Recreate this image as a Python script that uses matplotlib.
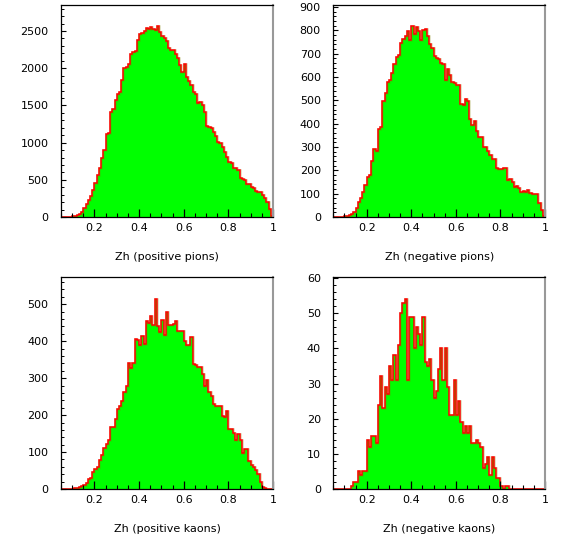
import numpy as np
import matplotlib
matplotlib.use("Agg")
import matplotlib.pyplot as plt
from matplotlib.ticker import MultipleLocator, FixedLocator, FixedFormatter

# bins of 0.01 in Zh, from 0.05 to 1
zh_edges = np.linspace(0.05, 1.0, 96)

pos_pions = [0, 0, 0, 0, 2, 8, 15, 22, 36, 72,
	116, 170, 228, 287, 363, 452, 564, 654, 788, 896,
	1111, 1133, 1407, 1452, 1572, 1649, 1676, 1841, 1998, 2020,
	2052, 2186, 2222, 2231, 2379, 2455, 2477, 2500, 2536, 2527,
	2558, 2527, 2509, 2563, 2482, 2437, 2401, 2365, 2276, 2244,
	2250, 2186, 2132, 2043, 1953, 2052, 1886, 1828, 1774, 1684,
	1649, 1528, 1540, 1505, 1407, 1228, 1210, 1192, 1147, 1093,
	1012, 990, 945, 878, 811, 744, 725, 663, 655, 632,
	520, 512, 493, 439, 450, 400, 385, 349, 340, 335,
	296, 260, 206, 108, 18]

neg_pions = [0, 0, 0, 0, 1, 3, 6, 10, 15, 22,
	37, 66, 83, 106, 138, 173, 180, 241, 291, 281,
	378, 385, 499, 532, 579, 585, 618, 656, 685, 693,
	747, 761, 775, 797, 757, 818, 785, 814, 797, 757,
	800, 804, 775, 742, 725, 690, 682, 676, 660, 655,
	585, 636, 610, 578, 575, 565, 565, 484, 479, 507,
	496, 420, 396, 410, 367, 341, 341, 302, 298, 281,
	267, 249, 249, 212, 206, 204, 210, 212, 159, 162,
	149, 130, 133, 126, 109, 111, 106, 116, 102, 100,
	100, 97, 60, 28, 6]

pos_kaons = [0, 0, 0, 0, 0, 1, 3, 4, 6, 8,
	12, 16, 28, 31, 45, 55, 60, 79, 91, 110,
	123, 133, 168, 168, 190, 217, 226, 238, 262, 280,
	341, 328, 341, 407, 402, 391, 413, 393, 454, 449,
	467, 443, 515, 440, 425, 458, 416, 479, 443, 445,
	447, 455, 429, 428, 428, 400, 389, 389, 411, 337,
	335, 330, 330, 312, 278, 294, 262, 251, 231, 226,
	226, 226, 197, 195, 211, 163, 163, 152, 132, 148,
	132, 97, 109, 109, 75, 64, 60, 52, 41, 19,
	5, 2, 0, 0, 0]

neg_kaons = [0, 0, 0, 0, 0, 0, 0, 0, 1, 2,
	2, 5, 4, 5, 5, 14, 12, 15, 15, 13,
	24, 32, 23, 29, 27, 35, 31, 38, 31, 41,
	50, 53, 54, 31, 49, 49, 40, 46, 44, 41,
	49, 36, 35, 37, 31, 26, 28, 34, 40, 31,
	40, 29, 21, 21, 31, 21, 25, 19, 16, 18,
	16, 18, 13, 13, 14, 13, 12, 6, 7, 9,
	4, 9, 6, 3, 3, 1, 0, 1, 1, 0,
	0, 0, 0, 0, 0, 0, 0, 0, 0, 0,
	0, 0, 0, 0, 0]

x_titles = ["Zh (positive pions)", "Zh (negative pions)",
	"Zh (positive kaons)", "Zh (negative kaons)"]
x_ticks = [0.2, 0.4, 0.6, 0.8, 1.0]
x_tick_labels = ["0.2", "0.4", "0.6", "0.8", "1"]


def draw_hist(ax, counts, title, ymax, ymajor, yminor):
	ax.stairs(counts, zh_edges, fill=True, color="#00ff00", lw=0)
	# faint olive edge under the red line, like the antialiased original
	ax.stairs(counts, zh_edges, color="#808000", lw=1.8, baseline=0, alpha=0.3)
	ax.stairs(counts, zh_edges, color="#ff0000", lw=1.1, baseline=0)
	ax.set_xlim(0.05, 1.0)
	ax.set_ylim(0, ymax)

	ax.xaxis.set_major_locator(FixedLocator(x_ticks))
	ax.xaxis.set_major_formatter(FixedFormatter(x_tick_labels))
	ax.xaxis.set_minor_locator(MultipleLocator(0.05))
	ax.yaxis.set_major_locator(MultipleLocator(ymajor))
	ax.yaxis.set_minor_locator(MultipleLocator(yminor))

	ax.tick_params(axis="x", which="major", direction="in", length=6, width=0.9,
				   pad=4, labelsize=8)
	ax.tick_params(axis="x", which="minor", direction="in", length=3, width=0.8)
	ax.tick_params(axis="y", which="major", direction="in", length=3.5, width=0.8,
				   pad=9, labelsize=8)
	ax.tick_params(axis="y", which="minor", direction="in", length=2, width=0.7)

	for side in ["left", "bottom", "top"]:
		ax.spines[side].set_linewidth(0.9)
		ax.spines[side].set_color("black")
	ax.spines["right"].set_color("#999999")
	ax.spines["right"].set_linewidth(1.5)

	ax.set_xlabel(title, fontsize=8)
	ax.xaxis.set_label_coords(0.5, -0.165)


fig = plt.figure(figsize=(5.63, 5.40), dpi=100)

ax1 = fig.add_axes([0.1083, 0.5981, 0.3766, 0.3926])
draw_hist(ax1, pos_pions, x_titles[0], 2850, 500, 100)

ax2 = fig.add_axes([0.5920, 0.5981, 0.3760, 0.3926])
draw_hist(ax2, neg_pions, x_titles[1], 908, 100, 20)

ax3 = fig.add_axes([0.1083, 0.0944, 0.3766, 0.3921])
draw_hist(ax3, pos_kaons, x_titles[2], 573, 100, 20)

ax4 = fig.add_axes([0.5920, 0.0944, 0.3760, 0.3921])
draw_hist(ax4, neg_kaons, x_titles[3], 60.2, 10, 2)

fig.savefig("out.png", dpi=100)
plt.close()
